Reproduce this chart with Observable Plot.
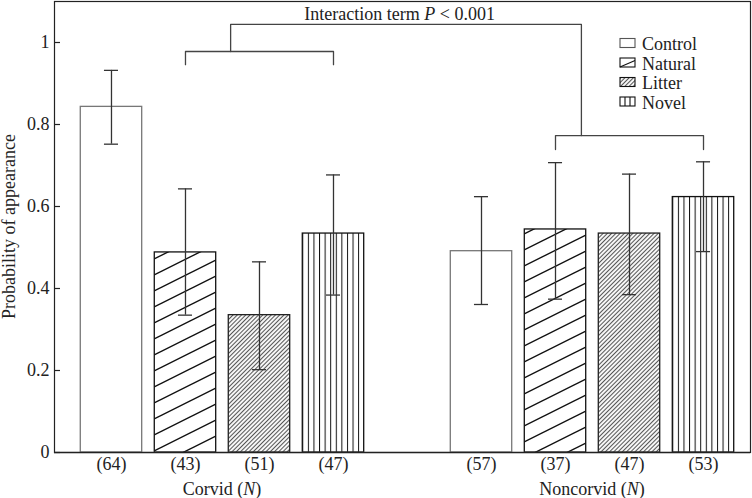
<!DOCTYPE html>
<html><head><meta charset="utf-8">
<script src="https://cdn.jsdelivr.net/npm/d3@7"></script>
<script src="https://cdn.jsdelivr.net/npm/@observablehq/plot@0.6"></script>
<style>
body{margin:0;background:#fff;}
svg{font-family:"Liberation Serif",serif;}
</style></head><body><div id="chart"></div>
<script>
// ---- data ----
const groups = ["Corvid", "Noncorvid"];
const treatments = ["Control", "Natural", "Litter", "Novel"];
const sampleSizes = [[64, 43, 51, 47], [57, 37, 47, 53]];
const means  = [[0.843, 0.488, 0.335, 0.534], [0.491, 0.544, 0.534, 0.623]];
const lowers = [[0.752, 0.335, 0.202, 0.384], [0.361, 0.374, 0.385, 0.490]];
const uppers = [[0.932, 0.643, 0.465, 0.677], [0.624, 0.707, 0.679, 0.709]];
const yTicks = [0, 0.2, 0.4, 0.6, 0.8, 1];
const yLabel = "Probability of appearance";
const interactionText = ["Interaction term ", "P", " < 0.001"];
const interactionAt = [3.9, 1.07];
const bracketCorvid = [[1, 0.946], [1, 0.978], [3, 0.978], [3, 0.946]];
const bracketNoncorvid = [[6, 0.739], [6, 0.773], [8, 0.773], [8, 0.739]];
const bracketInteraction = [[1.61, 0.978], [1.61, 1.044], [6.35, 1.044], [6.35, 0.773]];

// ---- table ----
const rows = [];
groups.forEach((g, gi) => treatments.forEach((t, ti) => rows.push({
  group: g, treatment: t, slot: gi * 5 + ti, n: sampleSizes[gi][ti],
  mean: means[gi][ti], lo: lowers[gi][ti], hi: uppers[gi][ti]
})));
const nBySlot = new Map(rows.map(r => [r.slot, r.n]));
const half = 0.415, cap = 0.095;
const fills = {Control: "#fff", Natural: "url(#pat-natural)", Litter: "url(#pat-litter)", Novel: "url(#pat-novel)"};
const strokes = {Control: "#777", Natural: "#111", Litter: "#222", Novel: "#111"};
const ink = "#222";
const FS = 18;

const chart = Plot.plot({
  width: 752, height: 498,
  marginLeft: 54, marginRight: 2, marginTop: 1, marginBottom: 46,
  style: {fontFamily: "Liberation Serif, serif", fontSize: FS + "px", color: ink, background: "#fff"},
  x: {domain: [-0.77, 8.635], axis: null},
  y: {domain: [0, 1.1], axis: null},
  color: {type: "identity"},
  marks: [
    Plot.rectY(rows, {x1: d => d.slot - half, x2: d => d.slot + half, y1: 0, y2: "mean",
      fill: d => fills[d.treatment], stroke: d => strokes[d.treatment], strokeWidth: 1.3}),
    Plot.ruleY([0], {stroke: "#555", strokeWidth: 1.3}),
    Plot.frame({stroke: ink, strokeWidth: 1.2}),
    Plot.ruleX(rows, {x: "slot", y1: "lo", y2: "hi", stroke: "#333", strokeWidth: 1.3}),
    Plot.ruleY(rows, {x1: d => d.slot - cap, x2: d => d.slot + cap, y: "lo", stroke: "#333", strokeWidth: 1.3}),
    Plot.ruleY(rows, {x1: d => d.slot - cap, x2: d => d.slot + cap, y: "hi", stroke: "#333", strokeWidth: 1.3}),
    Plot.tickY(yTicks, {y: d => d, insetRight: 690, stroke: ink, strokeWidth: 1.2}),
    Plot.axisY(yTicks, {tickSize: 0, tickPadding: 5, fontSize: FS, fill: ink, label: null, tickFormat: d => String(d)}),
    Plot.axisX(rows.map(r => r.slot), {tickSize: 0, tickPadding: 5, fontSize: FS, fill: ink, label: null,
      tickFormat: i => `(${nBySlot.get(i)})`}),
    Plot.line(bracketCorvid, {x: d => d[0], y: d => d[1], stroke: "#444", strokeWidth: 1.3}),
    Plot.line(bracketNoncorvid, {x: d => d[0], y: d => d[1], stroke: "#444", strokeWidth: 1.3}),
    Plot.line(bracketInteraction, {x: d => d[0], y: d => d[1], stroke: "#444", strokeWidth: 1.3})
  ]
});
document.getElementById("chart").appendChild(chart);

// ---- patterns ----
const svg = d3.select(chart);
const defs = svg.insert("defs", ":first-child");
const pn = defs.append("pattern").attr("id", "pat-natural").attr("patternUnits", "userSpaceOnUse")
  .attr("width", 32).attr("height", 16);
pn.append("rect").attr("width", 32).attr("height", 16).attr("fill", "#fff");
pn.append("path").attr("d", "M-4,18L36,-2M-4,2L4,-2M28,18L36,14").attr("stroke", "#111").attr("stroke-width", 1.4).attr("fill", "none");
const pl = defs.append("pattern").attr("id", "pat-litter").attr("patternUnits", "userSpaceOnUse")
  .attr("width", 3).attr("height", 3).attr("patternTransform", "rotate(45)");
pl.append("rect").attr("width", 3).attr("height", 3).attr("fill", "#f6f6f6");
pl.append("line").attr("x1", 0.5).attr("x2", 0.5).attr("y1", -1).attr("y2", 4).attr("stroke", "#555").attr("stroke-width", 1);
const pv = defs.append("pattern").attr("id", "pat-novel").attr("patternUnits", "objectBoundingBox")
  .attr("width", 1 / 11).attr("height", 1);
pv.append("rect").attr("width", 20).attr("height", 2000).attr("fill", "#fff");
pv.append("line").attr("x1", 0.5).attr("x2", 0.5).attr("y1", 0).attr("y2", 2000).attr("stroke", "#111").attr("stroke-width", 1);

// ---- rich text labels ----
const xs = chart.scale("x"), ys = chart.scale("y");
const font = {"font-family": "Liberation Serif, serif", "font-size": FS, fill: ink};
function addText(parts, x, y, anchor = "middle") {
  const t = svg.append("text").attr("x", x).attr("y", y).attr("text-anchor", anchor).attr("dy", "0.35em");
  Object.entries(font).forEach(([k, v]) => t.attr(k, v));
  parts.forEach((p, i) => t.append("tspan").attr("font-style", i % 2 ? "italic" : null).text(p));
  return t;
}
groups.forEach((g, gi) => addText([g + " (", "N", ")"], xs.apply(gi * 5 + 1.5), ys.apply(0) + 37));
addText(interactionText, xs.apply(interactionAt[0]), ys.apply(interactionAt[1]));
const yMid = (ys.range[0] + ys.range[1]) / 2;
svg.append("text").attr("transform", `translate(9,${yMid}) rotate(-90)`).attr("text-anchor", "middle")
  .attr("dy", "0.35em").attr("font-family", font["font-family"]).attr("font-size", FS).attr("fill", ink).text(yLabel);

// ---- legend ----
const lg = svg.append("g").attr("transform", "translate(620,43)");
treatments.forEach((t, i) => {
  const g = lg.append("g").attr("transform", `translate(0,${i * 19.5})`);
  g.append("rect").attr("x", 0).attr("y", -4.5).attr("width", 15).attr("height", 9)
    .attr("fill", t === "Litter" ? "url(#pat-litter)" : "#fff").attr("stroke", t === "Control" ? "#555" : "#111").attr("stroke-width", 1.1);
  if (t === "Natural") g.append("path").attr("d", "M0,4.5L15,-2").attr("stroke", "#111").attr("stroke-width", 1.1);
  if (t === "Novel") g.append("path").attr("d", "M5,-4.5V4.5M10,-4.5V4.5").attr("stroke", "#111").attr("stroke-width", 1.1);
  g.append("text").attr("x", 22).attr("y", 1).attr("dy", "0.35em").attr("text-anchor", "start")
    .attr("font-family", font["font-family"]).attr("font-size", FS).attr("fill", ink).text(t);
});
</script></body></html>
